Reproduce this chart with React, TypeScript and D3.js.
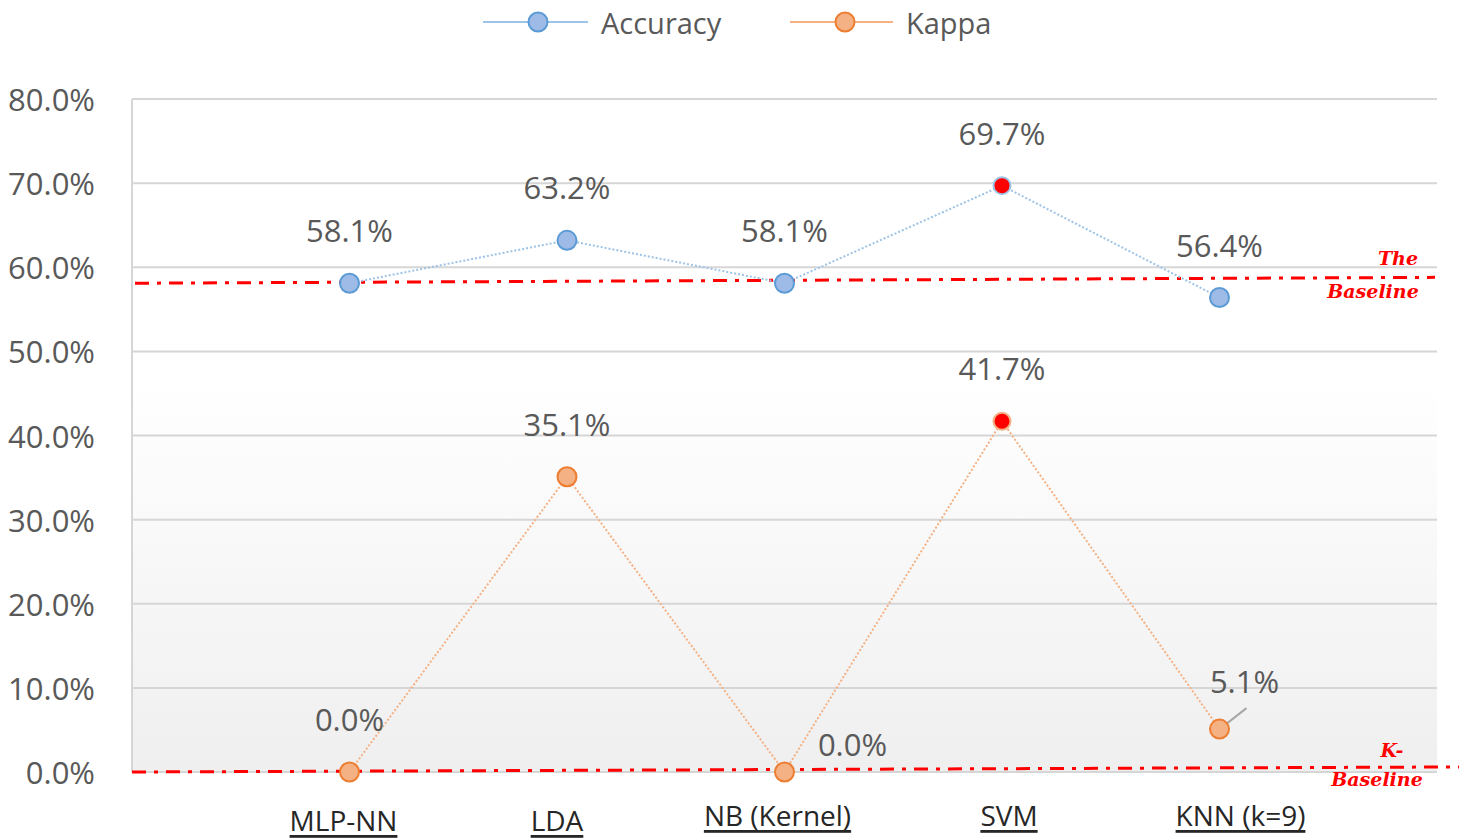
import React from "react";
import * as d3 from "d3";

const categories = ["MLP-NN", "LDA", "NB (Kernel)", "SVM", "KNN (k=9)"];
const accuracy = [58.1, 63.2, 58.1, 69.7, 56.4];
const kappa = [0.0, 35.1, 0.0, 41.7, 5.1];
const highlighted = [false, false, false, true, false];
const yTicks = [0, 10, 20, 30, 40, 50, 60, 70, 80];
const accBaseline = [58.1, 58.8];
const kBaseline = [0.0, 0.6];

const W = 1459;
const H = 840;
const M = { left: 132, right: 22, top: 99, bottom: 68 };
const FONT = "'Open Sans', 'Noto Sans', sans-serif";

export default function App() {
  const x = d3
    .scalePoint<string>()
    .domain(categories)
    .range([M.left, W - M.right])
    .padding(1);
  const y = d3.scaleLinear().domain([0, 80]).range([H - M.bottom, M.top]);
  const x0 = M.left;
  const x1 = W - M.right;

  const line = d3
    .line<number>()
    .x((_, i) => x(categories[i])!)
    .y((d) => y(d));

  const fmt = (v: number) => v.toFixed(1) + "%";

  const accStroke = "#5B9BD5";
  const accFill = "#9DBBE6";
  const kapStroke = "#ED7D31";
  const kapFill = "#F4B183";
  const legY = 22;

  return (
    <svg
      width={W}
      height={H}
      style={{ position: "absolute", left: 0, top: 0, display: "block" }}
    >
      <defs>
        <linearGradient id="bg" x1="0" y1="0" x2="0" y2="1">
          <stop offset="0" stopColor="#ffffff" />
          <stop offset="0.42" stopColor="#ffffff" />
          <stop offset="1" stopColor="#efefef" />
        </linearGradient>
      </defs>
      <rect x={0} y={0} width={W} height={H} fill="#ffffff" />
      <rect
        x={x0}
        y={y(80)}
        width={x1 - x0}
        height={y(0) - y(80)}
        fill="url(#bg)"
      />

      {/* grid */}
      {yTicks.map((t) => (
        <g key={t}>
          <line
            x1={x0}
            x2={x1}
            y1={y(t)}
            y2={y(t)}
            stroke="#d6d6d6"
            strokeWidth={2}
          />
          <text
            x={95}
            y={y(t)}
            textAnchor="end"
            dominantBaseline="central"
            fontFamily={FONT}
            fontSize={31}
            fill="#595959"
          >
            {fmt(t)}
          </text>
        </g>
      ))}
      <line
        x1={x0}
        x2={x0}
        y1={y(80)}
        y2={y(0)}
        stroke="#d6d6d6"
        strokeWidth={2}
      />

      {/* baselines */}
      <line
        x1={x0 + 3}
        x2={x1 - 2}
        y1={y(accBaseline[0])}
        y2={y(accBaseline[1])}
        stroke="#ff0000"
        strokeWidth={3}
        strokeDasharray="14 8 4 8"
      />
      <line
        x1={x0}
        x2={W}
        y1={y(kBaseline[0])}
        y2={y(kBaseline[1])}
        stroke="#ff0000"
        strokeWidth={3}
        strokeDasharray="14 8 4 8"
      />
      <g
        fontFamily="'DejaVu Serif', 'Liberation Serif', serif"
        fontWeight="bold"
        fontStyle="italic"
        fontSize={19}
        fill="#ff0000"
        textAnchor="middle"
      >
        <text x={1398} y={258} dominantBaseline="central">The</text>
        <text x={1373} y={291} dominantBaseline="central">Baseline</text>
        <text x={1392} y={750} dominantBaseline="central">K-</text>
        <text x={1377} y={779} dominantBaseline="central">Baseline</text>
      </g>

      {/* series lines */}
      <path
        d={line(accuracy)!}
        fill="none"
        stroke="#9DC3E6"
        strokeWidth={2}
        strokeDasharray="2 2"
      />
      <path
        d={line(kappa)!}
        fill="none"
        stroke={kapFill}
        strokeWidth={2}
        strokeDasharray="2 2"
      />

      {/* leader line for 5.1% */}
      <line
        x1={x(categories[4])! + 4}
        y1={y(kappa[4]) - 3}
        x2={x(categories[4])! + 27}
        y2={y(kappa[4]) - 21}
        stroke="#a6a6a6"
        strokeWidth={2}
      />

      {/* markers */}
      {accuracy.map((v, i) => (
        <circle
          key={"a" + i}
          cx={x(categories[i])!}
          cy={y(v)}
          r={highlighted[i] ? 8.5 : 9.5}
          fill={highlighted[i] ? "#ff0000" : accFill}
          stroke={highlighted[i] ? "#9DC3E6" : accStroke}
          strokeWidth={2}
        />
      ))}
      {kappa.map((v, i) => (
        <circle
          key={"k" + i}
          cx={x(categories[i])!}
          cy={y(v)}
          r={highlighted[i] ? 8.5 : 9.5}
          fill={highlighted[i] ? "#ff0000" : kapFill}
          stroke={highlighted[i] ? kapFill : kapStroke}
          strokeWidth={2}
        />
      ))}

      {/* data labels */}
      <g fontFamily={FONT} fontSize={31} fill="#595959" textAnchor="middle">
        {accuracy.map((v, i) => (
          <text
            key={"al" + i}
            x={x(categories[i])!}
            y={y(v) - 53}
            dominantBaseline="central"
          >
            {fmt(v)}
          </text>
        ))}
        {kappa.map((v, i) => {
          let dx = 0;
          let dy = -53;
          if (i === 2) {
            dx = 68;
            dy = -28;
          }
          if (i === 4) {
            dx = 25;
            dy = -48;
          }
          return (
            <text
              key={"kl" + i}
              x={x(categories[i])! + dx}
              y={y(v) + dy}
              dominantBaseline="central"
            >
              {fmt(v)}
            </text>
          );
        })}
      </g>

      {/* x labels */}
      <g fontFamily={FONT} fontSize={28} fill="#262626" textAnchor="middle">
        {categories.map((c, i) => {
          const dx = [-6, -10, -7, 7, 21][i];
          const dy = i < 2 ? 820 : 815;
          return (
            <text
              key={c}
              x={x(c)! + dx}
              y={dy}
              dominantBaseline="central"
              textDecoration="underline"
            >
              {c}
            </text>
          );
        })}
      </g>

      {/* legend */}
      <g fontFamily={FONT} fontSize={29} fill="#595959">
        <line x1={483} x2={588} y1={legY} y2={legY} stroke="#9DC3E6" strokeWidth={2} />
        <circle cx={538} cy={legY} r={9.5} fill={accFill} stroke={accStroke} strokeWidth={2} />
        <text x={601} y={legY} dominantBaseline="central">Accuracy</text>
        <line x1={790} x2={893} y1={legY} y2={legY} stroke={kapFill} strokeWidth={2} />
        <circle cx={845} cy={legY} r={9.5} fill={kapFill} stroke={kapStroke} strokeWidth={2} />
        <text x={906} y={legY} dominantBaseline="central">Kappa</text>
      </g>
    </svg>
  );
}
